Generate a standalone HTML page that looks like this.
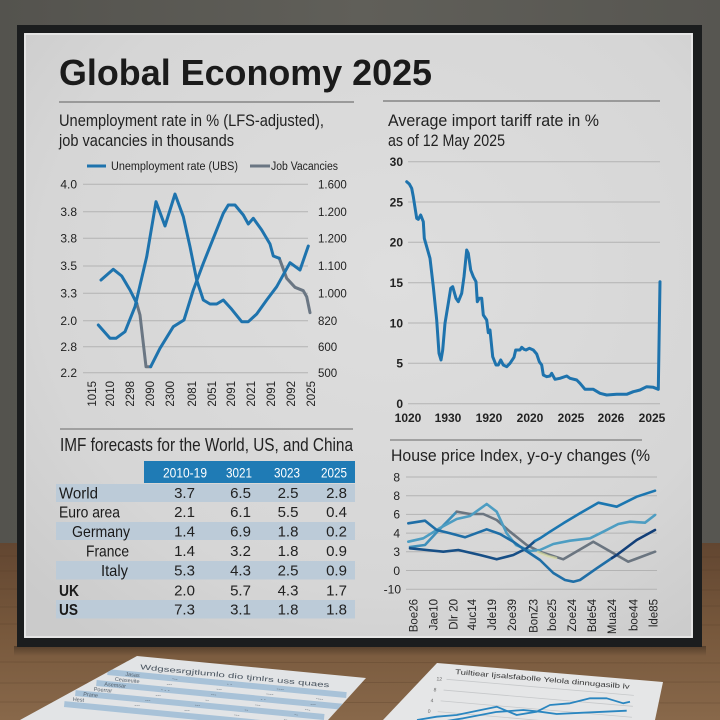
<!DOCTYPE html>
<html>
<head>
<meta charset="utf-8">
<style>
  html,body{margin:0;padding:0;background:#5c5b55;}
  svg{display:block;}
  text{font-family:"Liberation Sans", "DejaVu Sans", sans-serif;}
</style>
</head>
<body>
<svg width="720" height="720" viewBox="0 0 720 720" xmlns="http://www.w3.org/2000/svg">
  <defs>
    <linearGradient id="wall" x1="0" y1="0" x2="1" y2="0">
      <stop offset="0" stop-color="#54534e"/>
      <stop offset="0.5" stop-color="#605f59"/>
      <stop offset="1" stop-color="#575651"/>
    </linearGradient>
    <linearGradient id="wood" x1="0" y1="0" x2="0" y2="1">
      <stop offset="0" stop-color="#624631"/>
      <stop offset="0.5" stop-color="#77583c"/>
      <stop offset="1" stop-color="#88684a"/>
    </linearGradient>
    <radialGradient id="poster" cx="0.55" cy="0.4" r="0.75">
      <stop offset="0" stop-color="#dedede"/>
      <stop offset="0.7" stop-color="#d6d6d6"/>
      <stop offset="1" stop-color="#cbcbcb"/>
    </radialGradient>
    <linearGradient id="shadow" x1="0" y1="0" x2="0" y2="1">
      <stop offset="0" stop-color="#000" stop-opacity="0.3"/>
      <stop offset="1" stop-color="#000" stop-opacity="0"/>
    </linearGradient>
    <clipPath id="lp"><polygon points="137,656 366,678 328,720 20,720"/></clipPath>
    <clipPath id="rp"><polygon points="437,663 663,682 655,720 383,720"/></clipPath>
  </defs>

  <!-- wall & table -->
  <rect x="0" y="0" width="720" height="543" fill="url(#wall)"/>
  <rect x="0" y="543" width="720" height="177" fill="url(#wood)"/>
  <g stroke="#4e3624" stroke-opacity="0.25" stroke-width="1">
    <line x1="0" y1="556" x2="720" y2="557"/>
    <line x1="0" y1="571" x2="720" y2="570"/>
    <line x1="0" y1="589" x2="720" y2="590"/>
    <line x1="0" y1="607" x2="720" y2="606"/>
    <line x1="0" y1="624" x2="720" y2="625"/>
    <line x1="0" y1="662" x2="720" y2="663"/>
    <line x1="0" y1="683" x2="720" y2="682"/>
    <line x1="0" y1="702" x2="720" y2="703"/>
  </g>
  <rect x="14" y="646" width="692" height="10" fill="url(#shadow)"/>

  <!-- frame -->
  <rect x="17" y="25" width="685" height="622" fill="#1b1d1e"/>
  <rect x="24" y="33" width="669" height="605" fill="url(#poster)"/>
  <rect x="25" y="34" width="667" height="603" fill="none" stroke="#ececec" stroke-width="1.5"/>

  <!-- title -->
  <text x="59" y="85" font-size="36" font-weight="bold" fill="#1b1b1b" textLength="373" lengthAdjust="spacingAndGlyphs">Global Economy 2025</text>
  <line x1="59" y1="102" x2="354" y2="102" stroke="#9a9a9a" stroke-width="2"/>
  <line x1="383" y1="101" x2="660" y2="101" stroke="#9a9a9a" stroke-width="2"/>

  <!-- subtitles -->
  <text x="59" y="126" font-size="17" fill="#222" textLength="265" lengthAdjust="spacingAndGlyphs">Unemployment rate in % (LFS-adjusted),</text>
  <text x="59" y="146" font-size="17" fill="#222" textLength="175" lengthAdjust="spacingAndGlyphs">job vacancies in thousands</text>
  <text x="388" y="126" font-size="17" fill="#222" textLength="211" lengthAdjust="spacingAndGlyphs">Average import tariff rate in %</text>
  <text x="388" y="146" font-size="17" fill="#222" textLength="117" lengthAdjust="spacingAndGlyphs">as of 12 May 2025</text>

  <!-- LEFT CHART -->
  <line x1="87" y1="166" x2="106" y2="166" stroke="#1e73ad" stroke-width="3"/>
  <text x="111" y="170" font-size="11.5" fill="#222" textLength="127" lengthAdjust="spacingAndGlyphs">Unemployment rate (UBS)</text>
  <line x1="250" y1="166" x2="270" y2="166" stroke="#6a7683" stroke-width="3"/>
  <text x="271" y="170" font-size="11.5" fill="#222" textLength="67" lengthAdjust="spacingAndGlyphs">Job Vacancies</text>

  <g stroke="#b3b3b3" stroke-width="1">
    <line x1="83" y1="184.3" x2="308" y2="184.3"/>
    <line x1="83" y1="211.7" x2="308" y2="211.7"/>
    <line x1="83" y1="238.3" x2="308" y2="238.3"/>
    <line x1="83" y1="266" x2="308" y2="266"/>
    <line x1="83" y1="293.3" x2="308" y2="293.3"/>
    <line x1="83" y1="320.7" x2="308" y2="320.7"/>
    <line x1="83" y1="346.7" x2="308" y2="346.7"/>
    <line x1="83" y1="372.7" x2="308" y2="372.7"/>
  </g>
  <g font-size="12" fill="#222" text-anchor="end">
    <text x="77" y="188.5">4.0</text>
    <text x="77" y="215.9">3.8</text>
    <text x="77" y="242.5">3.8</text>
    <text x="77" y="270.2">3.5</text>
    <text x="77" y="297.5">3.3</text>
    <text x="77" y="324.9">2.0</text>
    <text x="77" y="350.9">2.8</text>
    <text x="77" y="376.9">2.2</text>
  </g>
  <g font-size="11.5" fill="#222">
    <text x="318" y="188.5">1.600</text>
    <text x="318" y="215.9">1.200</text>
    <text x="318" y="242.5">1.200</text>
    <text x="318" y="270.2">1.100</text>
    <text x="318" y="297.5">1.000</text>
    <text x="318" y="324.9">820</text>
    <text x="318" y="350.9">600</text>
    <text x="318" y="376.9">500</text>
  </g>
  <g font-size="11.5" fill="#222" text-anchor="end">
    <text transform="translate(96,381) rotate(-90)">1015</text>
    <text transform="translate(114,381) rotate(-90)">2010</text>
    <text transform="translate(134,381) rotate(-90)">2298</text>
    <text transform="translate(154,381) rotate(-90)">2090</text>
    <text transform="translate(174,381) rotate(-90)">2300</text>
    <text transform="translate(196,381) rotate(-90)">2081</text>
    <text transform="translate(216,381) rotate(-90)">2051</text>
    <text transform="translate(235,381) rotate(-90)">2091</text>
    <text transform="translate(255,381) rotate(-90)">2021</text>
    <text transform="translate(275,381) rotate(-90)">2091</text>
    <text transform="translate(295,381) rotate(-90)">2092</text>
    <text transform="translate(315,381) rotate(-90)">2025</text>
  </g>
  <g fill="none" stroke-width="3" stroke-linejoin="round" stroke-linecap="round">
    <path stroke="#6a7683" d="M136.7,303.3 L140,315 L146,366.7 L150.7,366.7"/>
    <path stroke="#6a7683" d="M279.3,258.3 L286.7,278.3 L295,287.3 L303.3,290.7 L306.7,296.7 L310,312.7"/>
    <path stroke="#1e73ad" d="M101,280 L113.3,269.3 L121.7,276 L130,290 L136.7,303.3"/>
    <path stroke="#1e73ad" d="M150.7,366.7 L160,348.3 L173.3,326.7 L184,320 L193.3,290 L203.3,263.3 L213.3,238.3 L223.3,213.3 L228.3,205 L235,205 L243.3,215 L248.3,224 L253.3,218.3 L261.7,230 L270,244 L273.3,256 L279.3,258.3"/>
    <path stroke="#1e73ad" d="M98.3,325 L110,338.3 L116,338.3 L125,331.7 L135,306.7 L146.7,256.7 L156,201.7 L165,226 L175,194 L183.3,216.7 L190,246.7 L196.7,280 L203.3,300 L210,304 L216.7,304 L223.3,300 L231.7,309.3 L241.7,321.7 L248.3,321.7 L256.7,314 L266.7,300 L276.7,286.7 L290,262.7 L300,270 L308.3,246"/>
  </g>

  <!-- TARIFF CHART -->
  <g stroke="#b3b3b3" stroke-width="1">
    <line x1="408" y1="161.7" x2="660" y2="161.7"/>
    <line x1="408" y1="202" x2="660" y2="202"/>
    <line x1="408" y1="242.3" x2="660" y2="242.3"/>
    <line x1="408" y1="282.7" x2="660" y2="282.7"/>
    <line x1="408" y1="323" x2="660" y2="323"/>
    <line x1="408" y1="363.3" x2="660" y2="363.3"/>
    <line x1="408" y1="403.7" x2="660" y2="403.7"/>
  </g>
  <g font-size="12" font-weight="bold" fill="#222" text-anchor="end">
    <text x="403" y="166">30</text>
    <text x="403" y="206.3">25</text>
    <text x="403" y="246.6">20</text>
    <text x="403" y="287">15</text>
    <text x="403" y="327.3">10</text>
    <text x="403" y="367.6">5</text>
    <text x="403" y="408">0</text>
  </g>
  <g font-size="12" font-weight="bold" fill="#222" text-anchor="middle">
    <text x="408" y="422">1020</text>
    <text x="448" y="422">1930</text>
    <text x="489" y="422">1920</text>
    <text x="530" y="422">2020</text>
    <text x="571" y="422">2025</text>
    <text x="611" y="422">2026</text>
    <text x="652" y="422">2025</text>
  </g>
  <path fill="none" stroke="#1e73ad" stroke-width="3" stroke-linejoin="round" stroke-linecap="round"
    d="M406.7,181.7 L409.3,184 L411.7,188.3 L413.3,196.7 L416.7,218.3 L418.3,219.3 L420.7,215 L423.3,221.7 L424.3,238.3 L430,258.3 L433.3,286.7 L436.7,320 L439,353.3 L441,360 L442.7,350 L445,323.3 L448.3,303.3 L450.7,288.3 L452.7,286.7 L456,298.3 L458.3,301.7 L461.7,293.3 L464,276.7 L466.7,250 L468.3,253.3 L470.7,270 L473.3,276.7 L476,281.7 L477.3,301.7 L479.3,298.3 L481.7,298.3 L483.3,315 L486.7,320 L488.3,332.7 L490,330 L492.7,356.7 L496,365 L498.3,365 L500.7,360 L503.3,365 L506.7,366.7 L510,363.3 L514,357.3 L515.7,350 L520,350 L521.7,347.3 L524,349.3 L526,350 L529.3,348.3 L533.3,350 L536.7,354 L539.3,361.7 L541.7,365 L543.3,375 L546.7,376.7 L550,376 L551.7,373.3 L555,379.3 L560,378.3 L566.7,376 L570,378.3 L576.7,380 L580,383.3 L585,389.3 L593.3,389.3 L600,393.3 L606.7,395 L616.7,394.3 L626.7,394.3 L633.3,391.7 L640,390 L646.7,386.7 L653.3,387.3 L658.3,389.3 L660,281.7"/>

  <!-- section separators -->
  <line x1="60" y1="429" x2="353" y2="429" stroke="#8e8e8e" stroke-width="1.5"/>
  <line x1="390" y1="440" x2="642" y2="440" stroke="#8e8e8e" stroke-width="1.5"/>

  <!-- IMF TABLE -->
  <text x="60" y="451" font-size="18" fill="#222" textLength="293" lengthAdjust="spacingAndGlyphs">IMF forecasts for the World, US, and China</text>
  <rect x="144" y="461" width="211" height="22" fill="#1f7bb5"/>
  <g font-size="14" fill="#ffffff" text-anchor="middle">
    <text x="185" y="477.5" textLength="44" lengthAdjust="spacingAndGlyphs">2010-19</text>
    <text x="239" y="477.5" textLength="26" lengthAdjust="spacingAndGlyphs">3021</text>
    <text x="287" y="477.5" textLength="26" lengthAdjust="spacingAndGlyphs">3023</text>
    <text x="334" y="477.5" textLength="26" lengthAdjust="spacingAndGlyphs">2025</text>
  </g>
  <g fill="#bccbd8">
    <rect x="56" y="484" width="299" height="18"/>
    <rect x="56" y="522" width="299" height="18"/>
    <rect x="56" y="561" width="299" height="18.5"/>
    <rect x="56" y="600" width="299" height="18.5"/>
  </g>
  <g font-size="16" fill="#1a1a1a">
    <text x="59" y="498.5" textLength="39" lengthAdjust="spacingAndGlyphs">World</text>
    <text x="59" y="517.5" textLength="61" lengthAdjust="spacingAndGlyphs">Euro area</text>
    <text x="72" y="537" textLength="58" lengthAdjust="spacingAndGlyphs">Germany</text>
    <text x="86" y="556.5" textLength="43" lengthAdjust="spacingAndGlyphs">France</text>
    <text x="101" y="576" textLength="27" lengthAdjust="spacingAndGlyphs">Italy</text>
    <text x="59" y="596" font-weight="bold" textLength="20" lengthAdjust="spacingAndGlyphs">UK</text>
    <text x="59" y="615" font-weight="bold" textLength="19" lengthAdjust="spacingAndGlyphs">US</text>
  </g>
  <g font-size="15" fill="#222" text-anchor="middle">
    <text x="184.5" y="498">3.7</text><text x="240.5" y="498">6.5</text><text x="288" y="498">2.5</text><text x="336.5" y="498">2.8</text>
    <text x="184.5" y="517">2.1</text><text x="240.5" y="517">6.1</text><text x="288" y="517">5.5</text><text x="336.5" y="517">0.4</text>
    <text x="184.5" y="536.5">1.4</text><text x="240.5" y="536.5">6.9</text><text x="288" y="536.5">1.8</text><text x="336.5" y="536.5">0.2</text>
    <text x="184.5" y="556">1.4</text><text x="240.5" y="556">3.2</text><text x="288" y="556">1.8</text><text x="336.5" y="556">0.9</text>
    <text x="184.5" y="575.5">5.3</text><text x="240.5" y="575.5">4.3</text><text x="288" y="575.5">2.5</text><text x="336.5" y="575.5">0.9</text>
    <text x="184.5" y="595.5">2.0</text><text x="240.5" y="595.5">5.7</text><text x="288" y="595.5">4.3</text><text x="336.5" y="595.5">1.7</text>
    <text x="184.5" y="614.5">7.3</text><text x="240.5" y="614.5">3.1</text><text x="288" y="614.5">1.8</text><text x="336.5" y="614.5">1.8</text>
  </g>

  <!-- HOUSE PRICE CHART -->
  <text x="391" y="461" font-size="17" fill="#222" textLength="259" lengthAdjust="spacingAndGlyphs">House price Index, y-o-y changes (%</text>
  <g stroke="#b3b3b3" stroke-width="1">
    <line x1="406" y1="477" x2="657" y2="477"/>
    <line x1="406" y1="495.7" x2="657" y2="495.7"/>
    <line x1="406" y1="514.4" x2="657" y2="514.4"/>
    <line x1="406" y1="533.1" x2="657" y2="533.1"/>
    <line x1="406" y1="551.8" x2="657" y2="551.8"/>
    <line x1="406" y1="570.5" x2="657" y2="570.5"/>
    <line x1="406" y1="589.2" x2="657" y2="589.2"/>
  </g>
  <g font-size="12" fill="#222" text-anchor="end">
    <text x="400" y="481.3">8</text>
    <text x="400" y="500">8</text>
    <text x="400" y="518.7">6</text>
    <text x="400" y="537.4">4</text>
    <text x="400" y="556.1">3</text>
    <text x="400" y="574.8">0</text>
    <text x="401" y="593.5">-10</text>
  </g>
  <g font-size="11.5" fill="#222" text-anchor="end">
    <text transform="translate(417.5,599) rotate(-90)">Boe26</text>
    <text transform="translate(437.5,599) rotate(-90)">Jae10</text>
    <text transform="translate(457.5,599) rotate(-90)">Dlr 20</text>
    <text transform="translate(476,599) rotate(-90)">4uc14</text>
    <text transform="translate(496,599) rotate(-90)">Jde19</text>
    <text transform="translate(516,599) rotate(-90)">2oe39</text>
    <text transform="translate(537.5,599) rotate(-90)">BonZ3</text>
    <text transform="translate(556,599) rotate(-90)">boe25</text>
    <text transform="translate(576,599) rotate(-90)">Zoe24</text>
    <text transform="translate(596,599) rotate(-90)">Bde54</text>
    <text transform="translate(616,599) rotate(-90)">Mua24</text>
    <text transform="translate(637.5,599) rotate(-90)">boe44</text>
    <text transform="translate(657.5,599) rotate(-90)">lde85</text>
  </g>
  <g fill="none" stroke-width="2.6" stroke-linejoin="round" stroke-linecap="round">
    <path stroke="#3f8fba" d="M410,547 L425,545 L437,532 L456.7,511.7"/>
    <path stroke="#6b7580" d="M456.7,511.7 L470,514 L483.3,514 L496.7,520 L510,531.7 L526.7,545 L540,551.7 L563.3,559.3 L593.3,541.7 L628.3,561.7 L655,551.7"/>
    <path stroke="#4d9dc2" d="M408.3,541.7 L423.3,538.3 L440,528 L456.7,519 L470,516 L486.7,504 L496.7,511.7 L506.7,533.3 L516,545 L530,551 L540,550 L553.3,544 L570,540.7 L590,538.3 L603.3,531.7 L618.3,524 L630,521.7 L645,522.7 L655,515"/>
    <path stroke="#d7dca0" stroke-opacity="0.7" d="M538,552 L548,556 L556,558"/>
    <path stroke="#174f86" d="M410,548.3 L426.7,550 L443.3,551.7 L458.3,550 L480,555 L496.7,559.3 L513.3,555 L526.7,548.3 L535,541"/>
    <path stroke="#1b76b0" d="M535,541 L540,538.3 L550,531.7 L563.3,523.3 L580,513.3 L598.3,502.7 L616.7,506.7 L636.7,496.7 L655,490.7"/>
    <path stroke="#1f6ea6" d="M408.3,523.3 L425,520.7 L436.7,530 L450,533.3 L465,537.3 L486.7,529.3 L500,534 L513.3,541.7 L525,550 L540,560 L553.3,573 L565,580 L573.3,581.7 L580,580 L596.7,568.3 L612,558"/>
    <path stroke="#123f78" d="M612,558 L616.7,555 L636.7,540 L655,530"/>
  </g>

  <!-- LEFT PAPER -->
  <polygon points="137,656 366,678 328,720 20,720" fill="#e2e4e6"/>
  <g clip-path="url(#lp)">
    <g transform="translate(128,668) rotate(5.5)">
      <text x="12" y="0" font-size="7" fill="#4a5560" textLength="190" lengthAdjust="spacingAndGlyphs">Wdgsesrgjtlumlo  dio  tjmlrs  uss  quaes</text>
      <rect x="-20" y="3" width="240" height="6" fill="#a8c2d8"/>
      <rect x="-30" y="15" width="250" height="6" fill="#a8c2d8"/>
      <rect x="-50" y="27" width="250" height="6" fill="#a8c2d8"/>
      <rect x="-60" y="39" width="260" height="6" fill="#a8c2d8"/>
      <g fill="#55606b" font-size="5.5">
        <text x="-2" y="8">Jasas</text><text x="45" y="8">---</text><text x="100" y="8">- -</text><text x="150" y="8">----</text>
        <text x="-12" y="14">Ceaseuite</text><text x="40" y="14">---</text><text x="90" y="14">---</text><text x="140" y="14">----</text><text x="190" y="14">----</text>
        <text x="-22" y="20">Asemsar</text><text x="35" y="20">- - -</text><text x="85" y="20">---</text><text x="135" y="20">- -</text><text x="185" y="20">---</text>
        <text x="-32" y="26">Poerrar</text><text x="30" y="26">---</text><text x="80" y="26">--</text><text x="130" y="26">---</text><text x="180" y="26">---</text>
        <text x="-42" y="32">Prane</text><text x="20" y="32">---</text><text x="70" y="32">---</text><text x="120" y="32">--</text><text x="170" y="32">--</text>
        <text x="-52" y="38">Hest</text><text x="10" y="38">---</text><text x="60" y="38">---</text><text x="110" y="38">---</text><text x="160" y="38">--</text>
      </g>
    </g>
  </g>

  <!-- RIGHT PAPER -->
  <polygon points="437,663 663,682 655,720 383,720" fill="#e5e6e7"/>
  <g clip-path="url(#rp)">
    <g transform="translate(455,674) rotate(4.9)">
      <text x="0" y="0" font-size="7" fill="#333" textLength="175" lengthAdjust="spacingAndGlyphs">Tuiltiear Ijsalsfabolle Yelola dinnugasilb lv</text>
      <g stroke="#c6c8ca" stroke-width="0.8">
        <line x1="-8" y1="6" x2="180" y2="6"/>
        <line x1="-10" y1="17" x2="180" y2="17"/>
        <line x1="-12" y1="28" x2="180" y2="28"/>
        <line x1="-14" y1="39" x2="180" y2="39"/>
      </g>
      <g font-size="5" fill="#666">
        <text x="-18" y="8">12</text><text x="-20" y="19">8</text><text x="-22" y="30">4</text><text x="-24" y="41">0</text>
      </g>
    </g>
    <g fill="none" stroke="#2a86c0" stroke-width="1.8" stroke-linejoin="round">
      <path d="M417,720 L436.7,716.7 L456.7,715 L476,711 L496.7,706.7 L516.7,715 L536.7,711.7 L550,705 L570,703.3 L590,698.3 L606.7,698.3 L623.3,703.3 L630,701.7"/>
      <path d="M440,722 L463.3,718.3 L496,712 L523.3,710 L540,711.7 L556.7,714 L583.3,712.7 L626.7,710.7"/>
    </g>
  </g>
</svg>
</body>
</html>
